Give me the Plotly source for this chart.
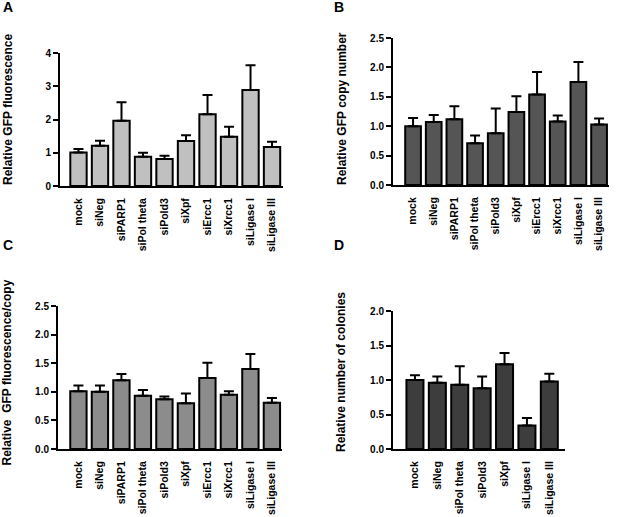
import plotly.graph_objects as go

# ---------------- data ----------------
cats_abc = ["mock", "siNeg", "siPARP1", "siPol theta", "siPold3", "siXpf",
            "siErcc1", "siXrcc1", "siLigase I", "siLigase III"]
cats_d = ["mock", "siNeg", "siPol theta", "siPold3", "siXpf", "siLigase I", "siLigase III"]

a_vals = [1.01, 1.21, 1.96, 0.88, 0.81, 1.35, 2.16, 1.48, 2.89, 1.17]
a_err = [0.10, 0.15, 0.56, 0.12, 0.10, 0.18, 0.58, 0.30, 0.74, 0.16]

b_vals = [1.00, 1.07, 1.12, 0.71, 0.88, 1.24, 1.54, 1.08, 1.75, 1.03]
b_err = [0.14, 0.12, 0.22, 0.13, 0.42, 0.27, 0.38, 0.10, 0.34, 0.10]

c_vals = [1.01, 1.00, 1.20, 0.93, 0.87, 0.80, 1.24, 0.95, 1.40, 0.81]
c_err = [0.10, 0.11, 0.11, 0.10, 0.05, 0.17, 0.27, 0.06, 0.26, 0.08]

d_vals = [1.00, 0.96, 0.93, 0.88, 1.23, 0.34, 0.98]
d_err = [0.07, 0.09, 0.27, 0.17, 0.16, 0.11, 0.11]

W, H = 617, 517
FONT = "Liberation Sans, Arial, Helvetica, sans-serif"

fig = go.Figure()

panels = [
    # name, cats, vals, err, color, xdom(px), ydom(px: bottom, top), yrange, dtick, fmt, xrange
    ("", cats_abc, a_vals, a_err, "#c0c0c0", (60, 283), (186, 53), (0, 4), 1, "d", (-0.86, 9.51)),
    ("2", cats_abc, b_vals, b_err, "#555555", (393, 609), (185, 38), (0, 2.5), 0.5, ".1f", (-0.97, 9.48)),
    ("3", cats_abc, c_vals, c_err, "#8c8c8c", (58, 282), (449, 306), (0, 2.5), 0.5, ".1f", (-0.95, 9.47)),
    ("4", cats_d, d_vals, d_err, "#3d3d3d", (393, 565), (449, 311), (0, 2.0), 0.5, ".1f", (-0.98, 6.70)),
]

for name, cats, vals, err, color, xd, yd, yr, dt, fmt, xr in panels:
    fig.add_trace(go.Bar(
        x=cats, y=vals,
        xaxis="x" + name, yaxis="y" + name,
        marker=dict(color=color, line=dict(color="black", width=2)),
        error_y=dict(type="data", array=err, arrayminus=[0] * len(err), symmetric=False,
                     color="black", thickness=2, width=5),
        showlegend=False,
    ))
    xkey = "xaxis" + name
    ykey = "yaxis" + name
    fig.update_layout(**{
        xkey: dict(
            domain=[xd[0] / W, xd[1] / W], anchor="y" + name, automargin=False,
            range=list(xr), showline=True, linewidth=2, linecolor="black",
            ticks="", tickangle=-90, showgrid=False, zeroline=False,
            tickfont=dict(family=FONT, size=10.5, color="black", weight="bold"),
            ticklabelstandoff=6,
        ),
        ykey: dict(
            domain=[1 - yd[0] / H, 1 - yd[1] / H], anchor="x" + name, automargin=False,
            range=list(yr), dtick=dt, tick0=0, tickformat=fmt,
            showline=True, linewidth=2, linecolor="black",
            ticks="outside", ticklen=5, tickwidth=2, tickcolor="black",
            showgrid=False, zeroline=False,
            tickfont=dict(family=FONT, size=10, color="black", weight="bold"),
        ),
    })

fig.update_layout(bargap=0.24)

titles = [
    ("Relative GFP fluorescence", 7.5, 109.5),
    ("Relative GFP copy number", 342, 108),
    ("Relative \u00a0GFP fluorescence/copy", 6.5, 373),
    ("Relative number of colonies", 341, 372),
]
for t, px, py in titles:
    fig.add_annotation(text=t, x=px / W, y=1 - py / H, xref="paper", yref="paper",
                       textangle=-90, showarrow=False, xanchor="center", yanchor="middle",
                       font=dict(family=FONT, size=12, color="black", weight="bold"))

letters = [("A", 7.5, 7), ("B", 339, 7), ("C", 7.5, 245), ("D", 339, 245)]
for t, px, py in letters:
    fig.add_annotation(text=t, x=px / W, y=1 - py / H, xref="paper", yref="paper",
                       showarrow=False, xanchor="center", yanchor="middle",
                       font=dict(family=FONT, size=14, color="black", weight="bold"))

fig.update_layout(
    width=W, height=H,
    margin=dict(l=0, r=0, t=0, b=0, autoexpand=False),
    paper_bgcolor="white", plot_bgcolor="white",
    font=dict(family=FONT),
)

fig.write_html("out.html",
               config={"displayModeBar": False},
               post_script="document.body.style.margin='0';document.body.style.overflow='hidden';")
